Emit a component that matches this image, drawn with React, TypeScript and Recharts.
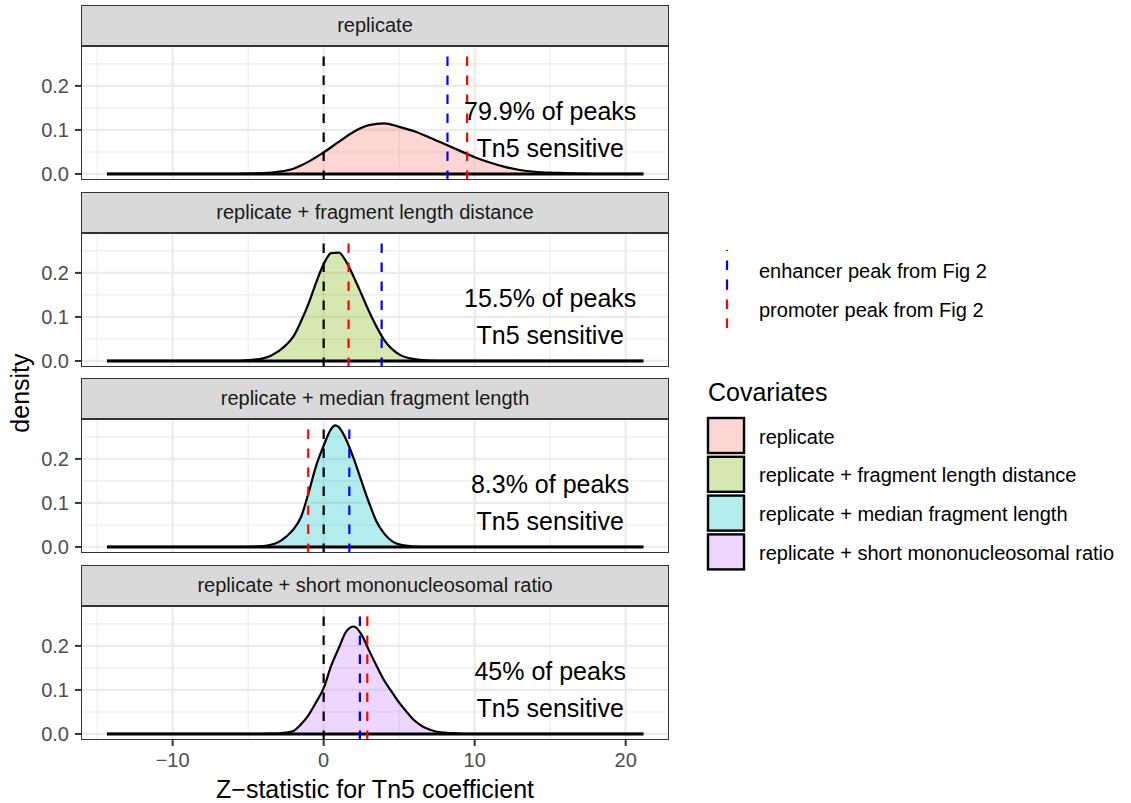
import React from "react";
import { ComposedChart, Area, XAxis, YAxis, CartesianGrid, ReferenceLine, Scatter } from "recharts";

const FONT = '"Liberation Sans", Arial, Helvetica, sans-serif';

// facet labels + fill colours (ggplot default hue palette, alpha 0.3)
const covariates = [
  "replicate",
  "replicate + fragment length distance",
  "replicate + median fragment length",
  "replicate + short mononucleosomal ratio",
];
const hueColors = ["#F8766D", "#7CAE00", "#00BFC4", "#C77CFF"];

// density curves (z-statistic -> density)
const zGrid1 = [-14.35, -10, -6, -5, -4, -3, -2, -1, 0, 1, 2, 3, 4, 5, 6, 7, 8, 9, 10, 11, 12, 13, 14, 15, 16, 17, 18, 21.17];
const density1 = [0, 0, 0, 0.001, 0.002, 0.005, 0.012, 0.028, 0.049, 0.073, 0.096, 0.111, 0.115, 0.107, 0.097, 0.083, 0.068, 0.053, 0.038, 0.026, 0.016, 0.009, 0.005, 0.003, 0.002, 0.001, 0, 0];

const zGrid2 = [-14.35, -6, -5, -4, -3, -2.5, -2, -1.5, -1, -0.5, 0, 0.5, 1, 1.5, 2, 2.5, 3, 3.5, 4, 4.5, 5, 6, 7, 8, 21.17];
const density2 = [0, 0, 0.002, 0.006, 0.022, 0.036, 0.056, 0.09, 0.13, 0.178, 0.22, 0.245, 0.246, 0.225, 0.19, 0.152, 0.113, 0.078, 0.048, 0.028, 0.015, 0.004, 0.001, 0, 0];

const zGrid3 = [-14.35, -6, -5, -4, -3.5, -3, -2.5, -2, -1.5, -1, -0.5, 0, 0.5, 0.75, 1, 1.5, 2, 2.5, 3, 3.5, 4, 4.5, 5, 6, 7, 21.17];
const density3 = [0, 0, 0.0005, 0.002, 0.005, 0.011, 0.023, 0.04, 0.068, 0.123, 0.184, 0.23, 0.268, 0.276, 0.272, 0.243, 0.2, 0.15, 0.101, 0.058, 0.031, 0.014, 0.006, 0.001, 0, 0];

const zGrid4 = [-14.35, -5, -4, -3, -2.5, -2, -1.5, -1, -0.5, 0, 0.5, 1, 1.5, 2, 2.5, 3, 3.5, 4, 4.5, 5, 5.5, 6, 6.5, 7, 7.5, 8, 9, 10, 21.17];
const density4 = [0, 0, 0.0005, 0.001, 0.003, 0.007, 0.022, 0.043, 0.072, 0.104, 0.155, 0.195, 0.233, 0.244, 0.226, 0.19, 0.155, 0.122, 0.096, 0.071, 0.05, 0.031, 0.018, 0.01, 0.005, 0.003, 0.001, 0, 0];

const zGrids = [zGrid1, zGrid2, zGrid3, zGrid4];
const densities = [density1, density2, density3, density4];

// dashed reference lines per facet
const zeroLine = 0;
const enhancerPeaks = [8.2, 3.84, 1.7, 2.4];
const promoterPeaks = [9.5, 1.65, -1.02, 2.89];

// annotation
const sensitivePct = ["79.9%", "15.5%", "8.3%", "45%"];
const annoX = 15;
const annoY = 0.1;

// axes
const xDomain = [-16.07, 22.87];
const yDomain = [-0.0137, 0.2906];
const xMajor = [-10, 0, 10, 20];
const xMinor = [-15, -5, 5, 15];
const yMajor = [0, 0.1, 0.2];
const yMinor = [0.05, 0.15, 0.25];

const lineLegend = [
  { label: "enhancer peak from Fig 2", color: "#0000FF" },
  { label: "promoter peak from Fig 2", color: "#FF0000" },
];

const plotLeft = 81;
const plotRight = 669;
const plotH = 134;
const stripH = 41;
const firstStripTop = 5;
const panelStep = 186.7;
const DASH = "9.5 9.5";

const fmtX = (v: number) => (v < 0 ? "\u2212" + Math.abs(v) : String(v));
const fmtY = (v: number) => v.toFixed(1);

function AnnoText(props: any) {
  const { cx, cy, pct } = props;
  if (cx == null || cy == null) return null;
  return (
    <g>
      <text x={cx} y={cy - 18.5} textAnchor="middle" dominantBaseline="central" fontSize={25} fontFamily={FONT} fill="#000">
        {pct} of peaks
      </text>
      <text x={cx} y={cy + 18.5} textAnchor="middle" dominantBaseline="central" fontSize={25} fontFamily={FONT} fill="#000">
        Tn5 sensitive
      </text>
    </g>
  );
}

function vSeg(x: number) {
  // drawn bottom -> top so the dash pattern starts at the panel floor
  return [
    { x, y: yDomain[0] },
    { x, y: yDomain[1] },
  ];
}

function Panel({ idx }: { idx: number }) {
  const stripTop = firstStripTop + idx * panelStep;
  const plotTop = stripTop + stripH;
  const isLast = idx === 3;
  const axisH = isLast ? 34 : 0;
  const padBottom = isLast ? 0 : 12; // room for the "0.0" label
  const xs = zGrids[idx];
  const data = xs.map((x, i) => ({ x, d: densities[idx][i] }));
  const zMin = xs[0];
  const zMax = xs[xs.length - 1];

  return (
    <>
      <div
        style={{
          position: "absolute",
          left: plotLeft,
          top: stripTop,
          width: plotRight - plotLeft,
          height: stripH,
          boxSizing: "border-box",
          border: "1.5px solid #333333",
          background: "#D9D9D9",
          color: "#1A1A1A",
          fontFamily: FONT,
          fontSize: 20,
          lineHeight: `${stripH - 3}px`,
          textAlign: "center",
        }}
      >
        {covariates[idx]}
      </div>
      <div style={{ position: "absolute", left: 0, top: plotTop }}>
        <ComposedChart
          width={plotRight}
          height={plotH + axisH + padBottom}
          data={data}
          margin={{ top: 0, right: 0, bottom: padBottom, left: 0 }}
        >
          <CartesianGrid verticalValues={xMinor} horizontalValues={yMinor} stroke="#EBEBEB" strokeWidth={1.1} />
          <CartesianGrid verticalValues={xMajor} horizontalValues={yMajor} stroke="#EBEBEB" strokeWidth={2.2} />
          <XAxis
            type="number"
            dataKey="x"
            domain={xDomain}
            allowDataOverflow
            hide={!isLast}
            height={axisH}
            ticks={xMajor}
            interval={0}
            tickFormatter={fmtX}
            axisLine={false}
            tickSize={6}
            tickMargin={7}
            tickLine={{ stroke: "#333333", strokeWidth: 2 }}
            tick={{ fill: "#4D4D4D", fontSize: 20, fontFamily: FONT }}
          />
          <YAxis
            type="number"
            domain={yDomain}
            allowDataOverflow
            width={plotLeft}
            ticks={yMajor}
            interval={0}
            tickFormatter={fmtY}
            axisLine={false}
            tickSize={6}
            tickMargin={6}
            tickLine={{ stroke: "#333333", strokeWidth: 2 }}
            tick={{ fill: "#4D4D4D", fontSize: 20, fontFamily: FONT }}
          />
          <Area
            type="monotone"
            dataKey="d"
            baseValue={0}
            stroke="#000000"
            strokeWidth={2.2}
            fill={hueColors[idx]}
            fillOpacity={0.3}
            dot={false}
            activeDot={false}
            isAnimationActive={false}
          />
          <ReferenceLine segment={[{ x: zMin, y: 0 }, { x: zMax, y: 0 }]} stroke="#000000" strokeWidth={3} />
          <ReferenceLine segment={vSeg(zeroLine)} stroke="#000000" strokeWidth={2.2} strokeDasharray={DASH} />
          <ReferenceLine segment={vSeg(enhancerPeaks[idx])} stroke="#0000FF" strokeWidth={2.2} strokeDasharray={DASH} />
          <ReferenceLine segment={vSeg(promoterPeaks[idx])} stroke="#FF0000" strokeWidth={2.2} strokeDasharray={DASH} />
          <Scatter
            data={[{ x: annoX, d: annoY }]}
            dataKey="d"
            isAnimationActive={false}
            shape={(p: any) => <AnnoText cx={p.cx} cy={p.cy} pct={sensitivePct[idx]} />}
          />
        </ComposedChart>
      </div>
      <div
        style={{
          position: "absolute",
          left: plotLeft,
          top: plotTop,
          width: plotRight - plotLeft,
          height: plotH,
          boxSizing: "border-box",
          border: "1.5px solid #333333",
          pointerEvents: "none",
        }}
      />
    </>
  );
}

export default function App() {
  const plotsTop = firstStripTop + stripH;
  const plotsBottom = firstStripTop + 3 * panelStep + stripH + plotH;
  return (
    <div style={{ position: "absolute", left: 0, top: 0, width: 1131, height: 803, background: "#FFFFFF", overflow: "hidden" }}>
      {[0, 1, 2, 3].map((i) => (
        <Panel key={i} idx={i} />
      ))}
      <svg width={1131} height={803} style={{ position: "absolute", left: 0, top: 0, pointerEvents: "none" }}>
        <text
          x={20}
          y={(plotsTop + plotsBottom) / 2}
          transform={`rotate(-90 20 ${(plotsTop + plotsBottom) / 2})`}
          textAnchor="middle"
          dominantBaseline="central"
          fontSize={25}
          fontFamily={FONT}
          fill="#000"
        >
          density
        </text>
        <text x={(plotLeft + plotRight) / 2} y={789} textAnchor="middle" dominantBaseline="central" fontSize={25} fontFamily={FONT} fill="#000">
          Z{"\u2212"}statistic for Tn5 coefficient
        </text>

        {/* linetype legend */}
        {lineLegend.map((it, i) => {
          const top = 250 + i * 39;
          return (
            <g key={it.label}>
              <line x1={727} y1={top + 39} x2={727} y2={top} stroke={it.color} strokeWidth={2.2} strokeDasharray={DASH} />
              <text x={759} y={top + 20.5} dominantBaseline="central" fontSize={20} fontFamily={FONT} fill="#000">
                {it.label}
              </text>
            </g>
          );
        })}

        {/* fill legend */}
        <text x={708} y={392} dominantBaseline="central" fontSize={25} fontFamily={FONT} fill="#000">
          Covariates
        </text>
        {covariates.map((c, i) => {
          const top = 418 + i * 38.8;
          return (
            <g key={c}>
              <rect x={708} y={top} width={36} height={35} fill={hueColors[i]} fillOpacity={0.3} stroke="#000" strokeWidth={2.4} />
              <text x={759} y={top + 18.5} dominantBaseline="central" fontSize={20} fontFamily={FONT} fill="#000">
                {c}
              </text>
            </g>
          );
        })}
      </svg>
    </div>
  );
}
